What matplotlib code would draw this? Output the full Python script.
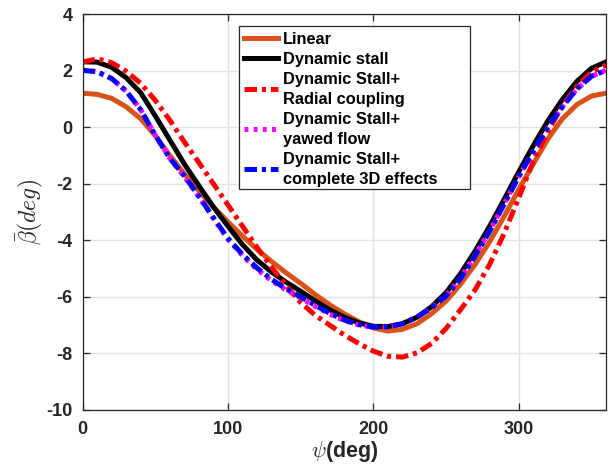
import matplotlib
matplotlib.use("Agg")
import matplotlib.pyplot as plt
from matplotlib.patches import Rectangle
import numpy as np

plt.rcParams['font.family'] = ['Liberation Sans', 'DejaVu Sans']
plt.rcParams['mathtext.fontset'] = 'cm'
plt.rcParams['lines.scale_dashes'] = False
plt.rcParams['axes.unicode_minus'] = False

# azimuth (deg)
psi = [0, 10, 20, 30, 40, 50, 60, 70, 80, 90, 100, 110, 120, 130, 140, 150, 160, 170, 180,
       190, 200, 210, 220, 230, 240, 250, 260, 270, 280, 290, 300, 310, 320, 330, 340, 350, 360]

linear = [1.20, 1.16, 1.02, 0.72, 0.30, -0.30, -1.00, -1.65, -2.25, -2.82, -3.35, -3.85, -4.32,
          -4.75, -5.15, -5.52, -5.92, -6.28, -6.60, -6.88, -7.10, -7.21, -7.15, -6.95, -6.60,
          -6.15, -5.55, -4.85, -4.05, -3.15, -2.20, -1.30, -0.42, 0.30, 0.80, 1.10, 1.20]

dyn_stall = [2.31, 2.30, 2.12, 1.75, 1.22, 0.40, -0.45, -1.30, -2.07, -2.82, -3.50, -4.15, -4.70,
             -5.12, -5.48, -5.80, -6.14, -6.46, -6.72, -6.92, -7.04, -7.05, -6.95, -6.72, -6.35,
             -5.85, -5.18, -4.38, -3.50, -2.55, -1.58, -0.65, 0.22, 0.98, 1.62, 2.08, 2.31]

radial = [2.30, 2.42, 2.28, 1.98, 1.55, 0.95, 0.25, -0.52, -1.25, -2.00, -2.75, -3.50, -4.25,
          -4.95, -5.60, -6.20, -6.65, -7.00, -7.35, -7.65, -7.92, -8.10, -8.13, -7.98, -7.65,
          -7.12, -6.45, -5.75, -4.85, -3.75, -2.50, -1.20, -0.15, 0.75, 1.45, 1.95, 2.20]

yawed = [2.02, 1.96, 1.72, 1.28, 0.62, -0.28, -1.10, -1.75, -2.46, -3.22, -3.96, -4.54, -5.03,
         -5.43, -5.76, -6.04, -6.34, -6.61, -6.84, -6.99, -7.07, -7.06, -6.95, -6.72, -6.38,
         -5.95, -5.33, -4.53, -3.66, -2.70, -1.74, -0.84, 0.00, 0.72, 1.35, 1.80, 2.01]

full_3d = [2.01, 1.96, 1.72, 1.28, 0.62, -0.28, -1.10, -1.72, -2.44, -3.20, -3.93, -4.50, -4.98,
           -5.38, -5.72, -6.00, -6.30, -6.58, -6.82, -6.98, -7.07, -7.06, -6.95, -6.72, -6.38,
           -5.97, -5.35, -4.55, -3.68, -2.72, -1.75, -0.85, 0.00, 0.72, 1.35, 1.80, 2.01]

fig = plt.figure(figsize=(6.13, 4.68), dpi=100)
ax = fig.add_axes([0.1346, 0.124, 0.8540, 0.846])

lw = 3.6
style = dict(lw=lw, solid_joinstyle='round', dash_joinstyle='round')
ax.plot(psi, linear, color='#D95319', label='Linear', **style)
ax.plot(psi, dyn_stall, color='black', label='Dynamic stall', **style)
ax.plot(psi, radial, color='#FF0000', dashes=(9, 3.5, 3, 3.5),
        label='Dynamic Stall+\nRadial coupling', **style)
ax.plot(psi, yawed, color='#FF00FF', dashes=(2.8, 3.8),
        label='Dynamic Stall+\nyawed flow', **style)
ax.plot(psi, full_3d, color='#0000FF', dashes=(9, 3.5, 3, 3.5),
        label='Dynamic Stall+\ncomplete 3D effects', **style)

ax.set_xlim(0, 360)
ax.set_ylim(-10, 4)
ax.set_xticks([0, 100, 200, 300])
ax.set_yticks(np.arange(-10, 5, 2))
ax.grid(True, color='#e3e3e3', lw=1.0)
ax.set_axisbelow(True)

for s in ax.spines.values():
    s.set_color('#262626')
    s.set_linewidth(0.9)
ax.tick_params(direction='in', top=True, right=True, length=5, width=0.9,
               colors='#262626', labelsize=13)
ax.tick_params(axis='x', pad=8)
ax.tick_params(axis='y', pad=7)
for t in ax.get_xticklabels() + ax.get_yticklabels():
    t.set_fontweight('bold')

ax.set_xlabel(r'$\psi$(deg)', fontsize=15.5, fontweight='bold', color='#262626', labelpad=1)
ax.set_ylabel(r'$\bar{\beta}(deg)$', fontsize=17, color='#262626', labelpad=1)

# legend box drawn separately (MATLAB-style wide frame)
ax.add_patch(Rectangle((0.299, 0.558), 0.441, 0.412, transform=ax.transAxes,
                       facecolor='white', edgecolor='#262626', lw=0.9, zorder=5))
leg = ax.legend(loc='upper left', bbox_to_anchor=(0.3085, 0.955),
                prop={'weight': 'bold', 'size': 11.8}, frameon=False,
                handlelength=2.1, handletextpad=0.25, labelspacing=0.3,
                borderpad=0, borderaxespad=0)
leg.set_zorder(6)
for t in leg.get_texts():
    t.set_linespacing(1.42)

fig.savefig('out.png', dpi=100, facecolor='white')
